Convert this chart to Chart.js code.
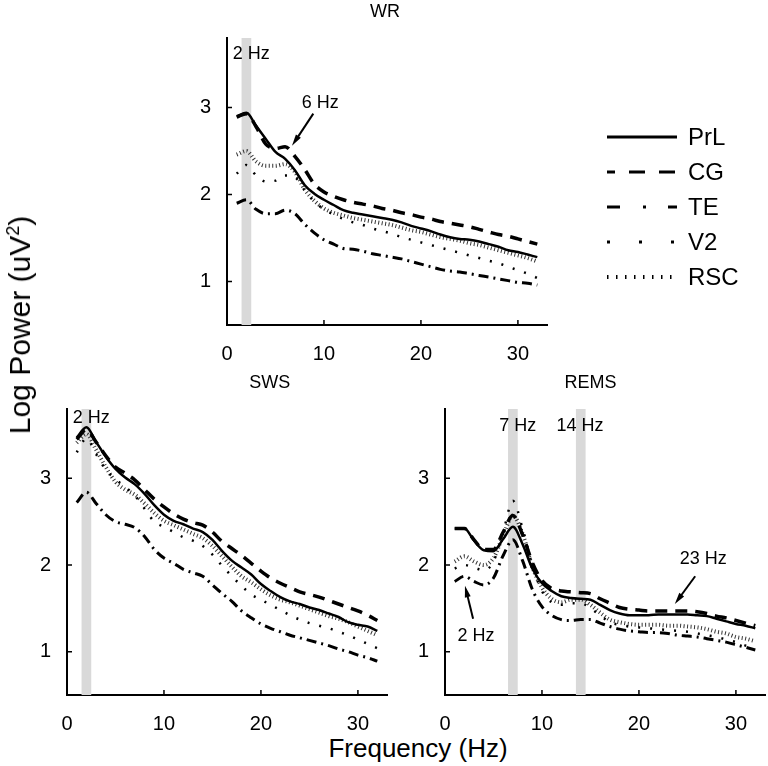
<!DOCTYPE html>
<html>
<head>
<meta charset="utf-8">
<script src="https://cdn.jsdelivr.net/npm/chart.js@4.4.1/dist/chart.umd.min.js"></script>
<style>
  body { margin: 0; width: 768px; height: 766px; background: #fff; position: relative; overflow: hidden;
         font-family: "Liberation Sans", Arial, sans-serif; }
  canvas { position: absolute; }
  #ylabel { position: absolute; left: 20px; top: 325px; font-size: 30px; white-space: nowrap;
            transform: translate(-50%, -50%) rotate(-90deg); }
  #ylabel sup { font-size: 60%; }
  #xlabel { position: absolute; left: 418px; top: 748px; font-size: 26px; white-space: nowrap;
            transform: translate(-50%, -50%); }
</style>
</head>
<body>
<canvas id="wrChart" width="591" height="360" style="left:177px; top:0px;"></canvas>
<canvas id="swsChart" width="380" height="360" style="left:17px; top:370px;"></canvas>
<canvas id="remsChart" width="373" height="360" style="left:395px; top:370px;"></canvas>
<div id="ylabel">Log Power (uV<sup>2</sup>)</div>
<div id="xlabel">Frequency (Hz)</div>
<script>
'use strict';

// 周波数 (Hz)
var freqs = [1, 2, 3, 4, 5, 6, 7, 8, 9, 10, 11, 12, 13, 14, 15, 16,
             17, 18, 19, 20, 21, 22, 23, 24, 25, 26, 27, 28, 29, 30, 31, 32];
var regions = ["PrL", "CG", "TE", "V2", "RSC"];
var xTicks = [0, 10, 20, 30];
var yTicks = [1, 2, 3];

// WR
var wrPrL = [2.90, 2.94, 2.79, 2.64, 2.49, 2.41, 2.28, 2.11, 2.01, 1.94, 1.88, 1.82, 1.79, 1.77, 1.75, 1.73,
             1.71, 1.68, 1.64, 1.61, 1.58, 1.54, 1.51, 1.49, 1.48, 1.46, 1.43, 1.40, 1.36, 1.34, 1.31, 1.28];
var wrCG  = [2.89, 2.93, 2.78, 2.58, 2.53, 2.55, 2.44, 2.29, 2.12, 2.03, 1.98, 1.94, 1.91, 1.89, 1.87, 1.84,
             1.82, 1.79, 1.77, 1.74, 1.72, 1.69, 1.67, 1.65, 1.63, 1.60, 1.57, 1.54, 1.52, 1.49, 1.46, 1.43];
var wrTE  = [1.90, 1.94, 1.83, 1.78, 1.78, 1.82, 1.78, 1.66, 1.56, 1.48, 1.43, 1.38, 1.37, 1.35, 1.32, 1.30,
             1.28, 1.26, 1.23, 1.20, 1.17, 1.14, 1.12, 1.11, 1.09, 1.07, 1.05, 1.03, 1.01, 0.99, 0.98, 0.96];
var wrV2  = [2.24, 2.34, 2.22, 2.15, 2.16, 2.22, 2.20, 2.05, 1.92, 1.83, 1.77, 1.72, 1.68, 1.65, 1.61, 1.58,
             1.55, 1.51, 1.48, 1.45, 1.42, 1.39, 1.36, 1.33, 1.30, 1.27, 1.24, 1.21, 1.17, 1.13, 1.09, 1.04];
var wrRSC = [2.46, 2.50, 2.38, 2.33, 2.33, 2.35, 2.26, 2.06, 1.93, 1.84, 1.79, 1.76, 1.73, 1.71, 1.69, 1.67,
             1.65, 1.62, 1.59, 1.57, 1.54, 1.51, 1.49, 1.47, 1.44, 1.42, 1.39, 1.36, 1.33, 1.30, 1.27, 1.23];

// SWS
var swsPrL = [3.47, 3.59, 3.42, 3.25, 3.11, 3.01, 2.93, 2.82, 2.69, 2.58, 2.51, 2.47, 2.42, 2.38, 2.29, 2.16,
              2.05, 1.97, 1.89, 1.78, 1.70, 1.63, 1.58, 1.55, 1.51, 1.48, 1.44, 1.40, 1.34, 1.31, 1.29, 1.24];
var swsCG  = [3.45, 3.56, 3.42, 3.26, 3.13, 3.06, 2.98, 2.87, 2.76, 2.67, 2.59, 2.53, 2.49, 2.46, 2.38, 2.27,
              2.19, 2.11, 2.02, 1.93, 1.85, 1.79, 1.74, 1.69, 1.66, 1.63, 1.59, 1.55, 1.51, 1.47, 1.42, 1.36];
var swsTE  = [2.72, 2.84, 2.71, 2.58, 2.50, 2.47, 2.43, 2.33, 2.18, 2.08, 2.02, 1.95, 1.91, 1.87, 1.77, 1.67,
              1.58, 1.47, 1.39, 1.32, 1.27, 1.23, 1.19, 1.16, 1.13, 1.10, 1.07, 1.03, 1.00, 0.96, 0.93, 0.89];
var swsV2  = [3.30, 3.46, 3.28, 3.10, 2.99, 2.90, 2.80, 2.65, 2.50, 2.44, 2.38, 2.32, 2.28, 2.22, 2.12, 1.99,
              1.87, 1.76, 1.66, 1.60, 1.54, 1.48, 1.42, 1.37, 1.33, 1.30, 1.27, 1.23, 1.19, 1.14, 1.09, 1.04];
var swsRSC = [3.41, 3.51, 3.33, 3.13, 2.96, 2.87, 2.81, 2.71, 2.60, 2.51, 2.46, 2.41, 2.36, 2.31, 2.22, 2.10,
              1.98, 1.87, 1.80, 1.72, 1.65, 1.60, 1.57, 1.53, 1.49, 1.45, 1.41, 1.38, 1.34, 1.29, 1.24, 1.19];

// REMS
var remsPrL = [2.42, 2.42, 2.28, 2.17, 2.16, 2.30, 2.44, 2.24, 1.96, 1.79, 1.70, 1.64, 1.62, 1.61, 1.60, 1.54,
               1.48, 1.44, 1.42, 1.42, 1.42, 1.43, 1.43, 1.43, 1.43, 1.42, 1.41, 1.38, 1.35, 1.32, 1.30, 1.27];
var remsCG  = [2.42, 2.42, 2.29, 2.18, 2.18, 2.38, 2.57, 2.35, 2.03, 1.82, 1.73, 1.70, 1.69, 1.68, 1.67, 1.61,
               1.56, 1.51, 1.49, 1.48, 1.47, 1.47, 1.47, 1.47, 1.47, 1.46, 1.44, 1.41, 1.39, 1.36, 1.33, 1.30];
var remsTE  = [1.81, 1.87, 1.81, 1.77, 1.85, 2.11, 2.29, 2.05, 1.72, 1.52, 1.42, 1.37, 1.36, 1.37, 1.37, 1.33,
               1.29, 1.26, 1.24, 1.23, 1.22, 1.22, 1.21, 1.19, 1.18, 1.17, 1.15, 1.13, 1.11, 1.08, 1.05, 1.02];
var remsV2  = [1.96, 2.00, 1.97, 1.94, 2.04, 2.38, 2.74, 2.42, 2.00, 1.70, 1.57, 1.54, 1.56, 1.56, 1.50, 1.42,
               1.34, 1.31, 1.29, 1.28, 1.27, 1.26, 1.25, 1.24, 1.23, 1.21, 1.19, 1.17, 1.14, 1.11, 1.07, 1.04];
var remsRSC = [2.04, 2.10, 2.04, 2.00, 2.08, 2.34, 2.57, 2.36, 1.98, 1.74, 1.61, 1.57, 1.60, 1.60, 1.54, 1.45,
               1.37, 1.34, 1.32, 1.31, 1.31, 1.31, 1.30, 1.30, 1.29, 1.28, 1.26, 1.23, 1.21, 1.17, 1.15, 1.12];

// 線のスタイル (PrL, CG, TE, V2, RSC)
var lineStyles = [
  { width: 2.5, dash: [], color: "#000" },
  { width: 3.5, dash: [12, 8], color: "#000" },
  { width: 3, dash: [10, 5, 2, 5], color: "#000" },
  { width: 2.5, dash: [2, 10], color: "#000" },
  { width: 4, dash: [1, 2.5], color: "#333" }
];
var legendDashes = [[], [16, 14], [13, 23, 3, 22], [3, 29], [1.5, 7.5]];
var legendDashOffsets = [0, 8, 0, 0, 0];

Chart.defaults.font.family = "'Liberation Sans', Arial, sans-serif";
Chart.defaults.color = "#000";

function makeDatasets(series) {
  return series.map(function (vals, i) {
    return {
      label: regions[i],
      data: freqs.map(function (f, j) { return { x: f, y: vals[j] }; }),
      borderColor: lineStyles[i].color,
      borderWidth: lineStyles[i].width,
      borderDash: lineStyles[i].dash,
      pointRadius: 0,
      tension: 0.35,
      cubicInterpolationMode: "monotone",
      fill: false
    };
  });
}

function drawArrow(ctx, x1, y1, x2, y2) {
  var ang = Math.atan2(y2 - y1, x2 - x1);
  var len = 12;
  ctx.beginPath();
  ctx.moveTo(x1, y1);
  ctx.lineTo(x2 - Math.cos(ang) * len * 0.8, y2 - Math.sin(ang) * len * 0.8);
  ctx.lineWidth = 2;
  ctx.stroke();
  ctx.beginPath();
  ctx.moveTo(x2, y2);
  ctx.lineTo(x2 - len * Math.cos(ang - 0.25), y2 - len * Math.sin(ang - 0.25));
  ctx.lineTo(x2 - len * Math.cos(ang + 0.25), y2 - len * Math.sin(ang + 0.25));
  ctx.closePath();
  ctx.fill();
}

// 帯・注釈・タイトル・内向きの目盛り
var panelDecor = {
  id: "panelDecor",
  beforeDatasetsDraw: function (chart, args, opts) {
    var ctx = chart.ctx, area = chart.chartArea, xs = chart.scales.x;
    ctx.save();
    ctx.fillStyle = "#d9d9d9";
    (opts.bands || []).forEach(function (b) {
      var l = xs.getPixelForValue(b - 0.5), r = xs.getPixelForValue(b + 0.5);
      ctx.fillRect(l, area.top, r - l, area.bottom - area.top);
    });
    ctx.restore();
  },
  afterDatasetsDraw: function (chart, args, opts) {
    var ctx = chart.ctx, area = chart.chartArea, xs = chart.scales.x, ys = chart.scales.y;
    ctx.save();
    ctx.fillStyle = "#000";
    ctx.strokeStyle = "#000";
    ctx.font = "18px 'Liberation Sans', Arial, sans-serif";
    ctx.textAlign = "left";
    ctx.textBaseline = "middle";
    (opts.notes || []).forEach(function (n) {
      ctx.fillText(n.text, xs.getPixelForValue(n.x), ys.getPixelForValue(n.y));
    });
    (opts.arrows || []).forEach(function (a) {
      drawArrow(ctx, xs.getPixelForValue(a[0]), ys.getPixelForValue(a[1]),
                xs.getPixelForValue(a[2]), ys.getPixelForValue(a[3]));
    });
    // タイトル
    ctx.textAlign = "center";
    ctx.fillText(opts.title, xs.getPixelForValue(opts.titleX), area.top - 26);
    // 目盛り (内向き)
    ctx.lineWidth = 1.5;
    ctx.beginPath();
    xs.ticks.forEach(function (t) {
      var px = xs.getPixelForValue(t.value);
      ctx.moveTo(px, area.bottom);
      ctx.lineTo(px, area.bottom - 5);
    });
    ys.ticks.forEach(function (t) {
      var py = ys.getPixelForValue(t.value);
      ctx.moveTo(area.left, py);
      ctx.lineTo(area.left + 5, py);
    });
    ctx.stroke();
    ctx.restore();
  }
};

// 凡例 (WR パネルの右側)
var sideLegend = {
  id: "sideLegend",
  afterDraw: function (chart, args, opts) {
    if (!opts.show) return;
    var ctx = chart.ctx;
    ctx.save();
    ctx.font = "24px 'Liberation Sans', Arial, sans-serif";
    ctx.textBaseline = "middle";
    ctx.fillStyle = "#000";
    chart.data.datasets.forEach(function (ds, i) {
      var y = opts.top + i * opts.gap;
      ctx.strokeStyle = "#000";
      ctx.lineWidth = i === 4 ? 4 : 3;
      ctx.setLineDash(legendDashes[i]);
      ctx.lineDashOffset = legendDashOffsets[i];
      ctx.beginPath();
      ctx.moveTo(opts.left, y);
      ctx.lineTo(opts.left + opts.width, y);
      ctx.stroke();
      ctx.setLineDash([]);
      ctx.fillText(ds.label, opts.left + opts.width + 11, y + 1);
    });
    ctx.restore();
  }
};

function makeOptions(decor, padding, legendOpts) {
  return {
    responsive: false,
    animation: false,
    layout: { padding: padding },
    plugins: {
      legend: { display: false },
      tooltip: { enabled: false },
      panelDecor: decor,
      sideLegend: legendOpts || { show: false }
    },
    scales: {
      x: {
        type: "linear",
        min: 0,
        max: 33,
        grid: { display: false },
        border: { display: true, color: "#000", width: 2 },
        ticks: { font: { size: 20 }, padding: 9, maxRotation: 0 },
        afterBuildTicks: function (scale) {
          scale.ticks = xTicks.map(function (v) { return { value: v }; });
        },
        afterFit: function (scale) { scale.height = 35; }
      },
      y: {
        min: 0.5,
        max: 3.8,
        grid: { display: false },
        border: { display: true, color: "#000", width: 2 },
        ticks: { font: { size: 20 }, padding: 8 },
        afterBuildTicks: function (scale) {
          scale.ticks = yTicks.map(function (v) { return { value: v }; });
        },
        afterFit: function (scale) { scale.width = 50; }
      }
    }
  };
}

var wrChart = new Chart(document.getElementById("wrChart").getContext("2d"), {
  type: "line",
  data: { datasets: makeDatasets([wrPrL, wrCG, wrTE, wrV2, wrRSC]) },
  options: makeOptions(
    { title: "WR", titleX: 16.3, bands: [2],
      notes: [{ text: "2 Hz", x: 0.6, y: 3.62 }, { text: "6 Hz", x: 7.7, y: 3.05 }],
      arrows: [[8.9, 2.93, 6.7, 2.56]] },
    { left: 0, top: 38, right: 221, bottom: 0 },
    { show: true, left: 430, width: 70, top: 137, gap: 35 }
  ),
  plugins: [panelDecor, sideLegend]
});

var swsChart = new Chart(document.getElementById("swsChart").getContext("2d"), {
  type: "line",
  data: { datasets: makeDatasets([swsPrL, swsCG, swsTE, swsV2, swsRSC]) },
  options: makeOptions(
    { title: "SWS", titleX: 20.9, bands: [2],
      notes: [{ text: "2 Hz", x: 0.6, y: 3.70 }], arrows: [] },
    { left: 0, top: 39, right: 10, bottom: 0 }
  ),
  plugins: [panelDecor, sideLegend]
});

var remsChart = new Chart(document.getElementById("remsChart").getContext("2d"), {
  type: "line",
  data: { datasets: makeDatasets([remsPrL, remsCG, remsTE, remsV2, remsRSC]) },
  options: makeOptions(
    { title: "REMS", titleX: 15, bands: [7, 14],
      notes: [{ text: "7 Hz", x: 5.6, y: 3.60 }, { text: "14 Hz", x: 11.5, y: 3.60 },
              { text: "23 Hz", x: 24.2, y: 2.07 }, { text: "2 Hz", x: 1.3, y: 1.18 }],
      arrows: [[25.8, 1.87, 23.7, 1.55], [2.9, 1.38, 2.06, 1.76]] },
    { left: 0, top: 39, right: 3, bottom: 0 }
  ),
  plugins: [panelDecor, sideLegend]
});
</script>
</body>
</html>
